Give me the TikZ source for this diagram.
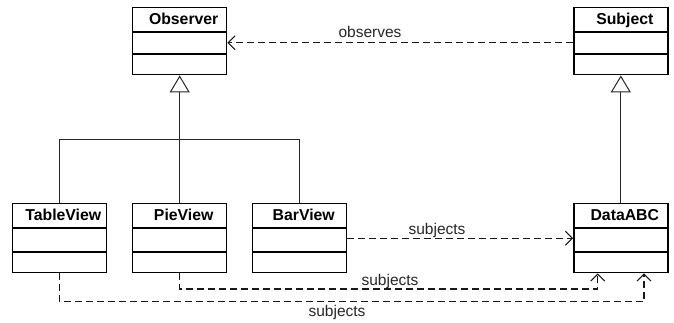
\documentclass[tikz,border=0pt]{standalone}
\usepackage{fontspec}
\setmainfont{Liberation Sans}
\usetikzlibrary{arrows.meta}

\tikzset{
  umlclass/.style={draw=black, line width=1.4pt, rectangle, anchor=north,
    minimum width=94pt, inner sep=0pt},
  toprow/.style={umlclass, minimum height=67pt},
  botrow/.style={umlclass, minimum height=69pt},
  compart/.style={draw=black, line width=1.4pt},
  title/.style={anchor=base, inner sep=0pt, font=\bfseries\fontsize{15.8}{18}\selectfont},
  lbl/.style={inner sep=0pt, font=\fontsize{15.5}{18}\selectfont, text=black!85},
  inherit/.style={draw=black!85, line width=1pt,
    -{Triangle[open, length=17pt, width=20pt, line width=1pt]}},
  tree/.style={draw=black!85, line width=1pt},
  dep/.style={draw=black!90, line width=1.4pt, dash pattern=on 7pt off 4pt,
    -{Straight Barb[length=7pt, width=14pt, line width=1pt]}},
}

% draws a class box with a bold title and two empty compartments
\newcommand{\classbox}[5]{% name, style, x, y, title
  \node[#2] (#1) at (#3pt,-#4pt) {};
  \draw[compart] ([yshift=-25pt]#1.north west) -- ([yshift=-25pt]#1.north east);
  \draw[compart] ([yshift=21.5pt]#1.south west) -- ([yshift=21.5pt]#1.south east);
  \node[title] (#1t) at ([xshift=4pt,yshift=-17.5pt]#1.north) {#5};
}

\begin{document}
\begin{tikzpicture}[x=1pt,y=1pt]
  \useasboundingbox (0,0) rectangle (674,-323);

  \classbox{obs}{toprow}{179.7}{7}{Observer}
  \classbox{subj}{toprow}{620.8}{7}{Subject}
  \classbox{tv}{botrow}{59.3}{203}{TableView}
  \classbox{pv}{botrow}{179.7}{203}{PieView}
  \classbox{bv}{botrow}{299.7}{203}{BarView}
  \classbox{dabc}{botrow}{620.8}{203}{DataABC}

  % generalisation towards Observer
  \coordinate (junc) at (179.7,-140);
  \draw[tree] (tv.north) |- (junc);
  \draw[tree] (bv.north) |- (junc);
  \draw[tree] (pv.north) -- (junc);
  \draw[inherit] (junc) -- (obs.south);

  % generalisation towards Subject
  \draw[inherit] (dabc.north) -- (subj.south);

  % dependencies
  \draw[dep] ([yshift=-1.5pt]subj.west) -- ([yshift=-1.5pt]obs.east);
  \node[lbl] (lobs) at (370,-32) {observes};

  \draw[dep] (bv.east) -- (dabc.west);
  \node[lbl] (ls1) at (437,-230.5) {subjects};

  \coordinate (pturn) at (597.7,-289);
  \draw[dep] (pv.south) |- (pturn) -- (pturn |- dabc.south);
  \node[lbl] (ls2) at (390,-281.5) {subjects};

  \coordinate (tturn) at (644,-301.7);
  \draw[dep] (tv.south) |- (tturn) -- (tturn |- dabc.south);
  \node[lbl] (ls3) at (337,-312) {subjects};
\end{tikzpicture}
\end{document}
